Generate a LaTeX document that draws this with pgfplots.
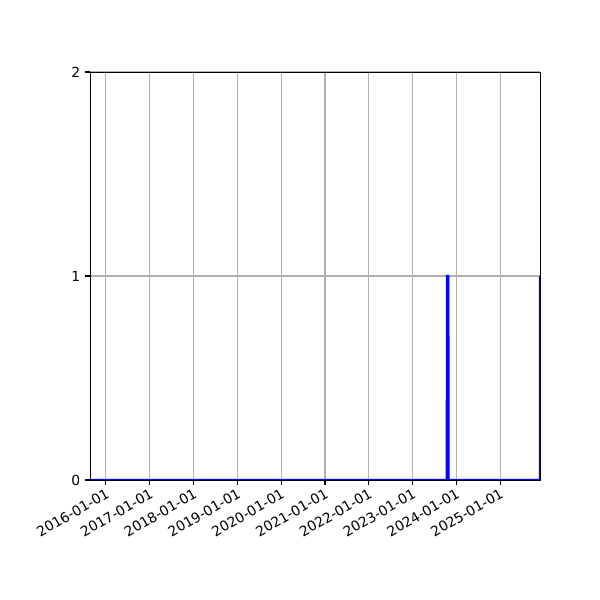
\documentclass[border=0pt]{standalone}
\usepackage{pgfplots}
\pgfplotsset{compat=1.18}
\usepackage{fontspec}
\setmainfont{DejaVu Sans}
\definecolor{gridgray}{HTML}{B0B0B0}
\begin{document}
\begin{tikzpicture}
\path[use as bounding box] (0,0) rectangle (432bp,432bp);
\begin{axis}[
    at={(64.8bp,86.4bp)}, anchor=south west,
    scale only axis, width=324bp, height=293.76bp,
    xmin=-133, xmax=3621, ymin=0, ymax=2,
    xtick={0,366,731,1096,1461,1827,2192,2557,2922,3288},
    xticklabels={2016-01-01,2017-01-01,2018-01-01,2019-01-01,2020-01-01,2021-01-01,2022-01-01,2023-01-01,2024-01-01,2025-01-01},
    ytick={0,1,2},
    tick label style={font=\fontsize{10bp}{12bp}\selectfont},
    xticklabel style={rotate=30, anchor=north east, inner sep=1.5bp},
    /pgf/number format/assume math mode=true,
    tick align=outside, tick pos=left,
    major tick length=3.5bp,
    every tick/.style={black, line width=0.8bp},
    axis line style={line width=0.7bp},
    xmajorgrids, ymajorgrids,
    grid style={gridgray, line width=0.8bp},
]
\addplot[blue, line width=1.5bp] coordinates {
  (-133,0) (2843,0) (2844,1) (2857,1) (2858,0) (3620,0) (3621,1)
};
\end{axis}
\end{tikzpicture}
\end{document}
